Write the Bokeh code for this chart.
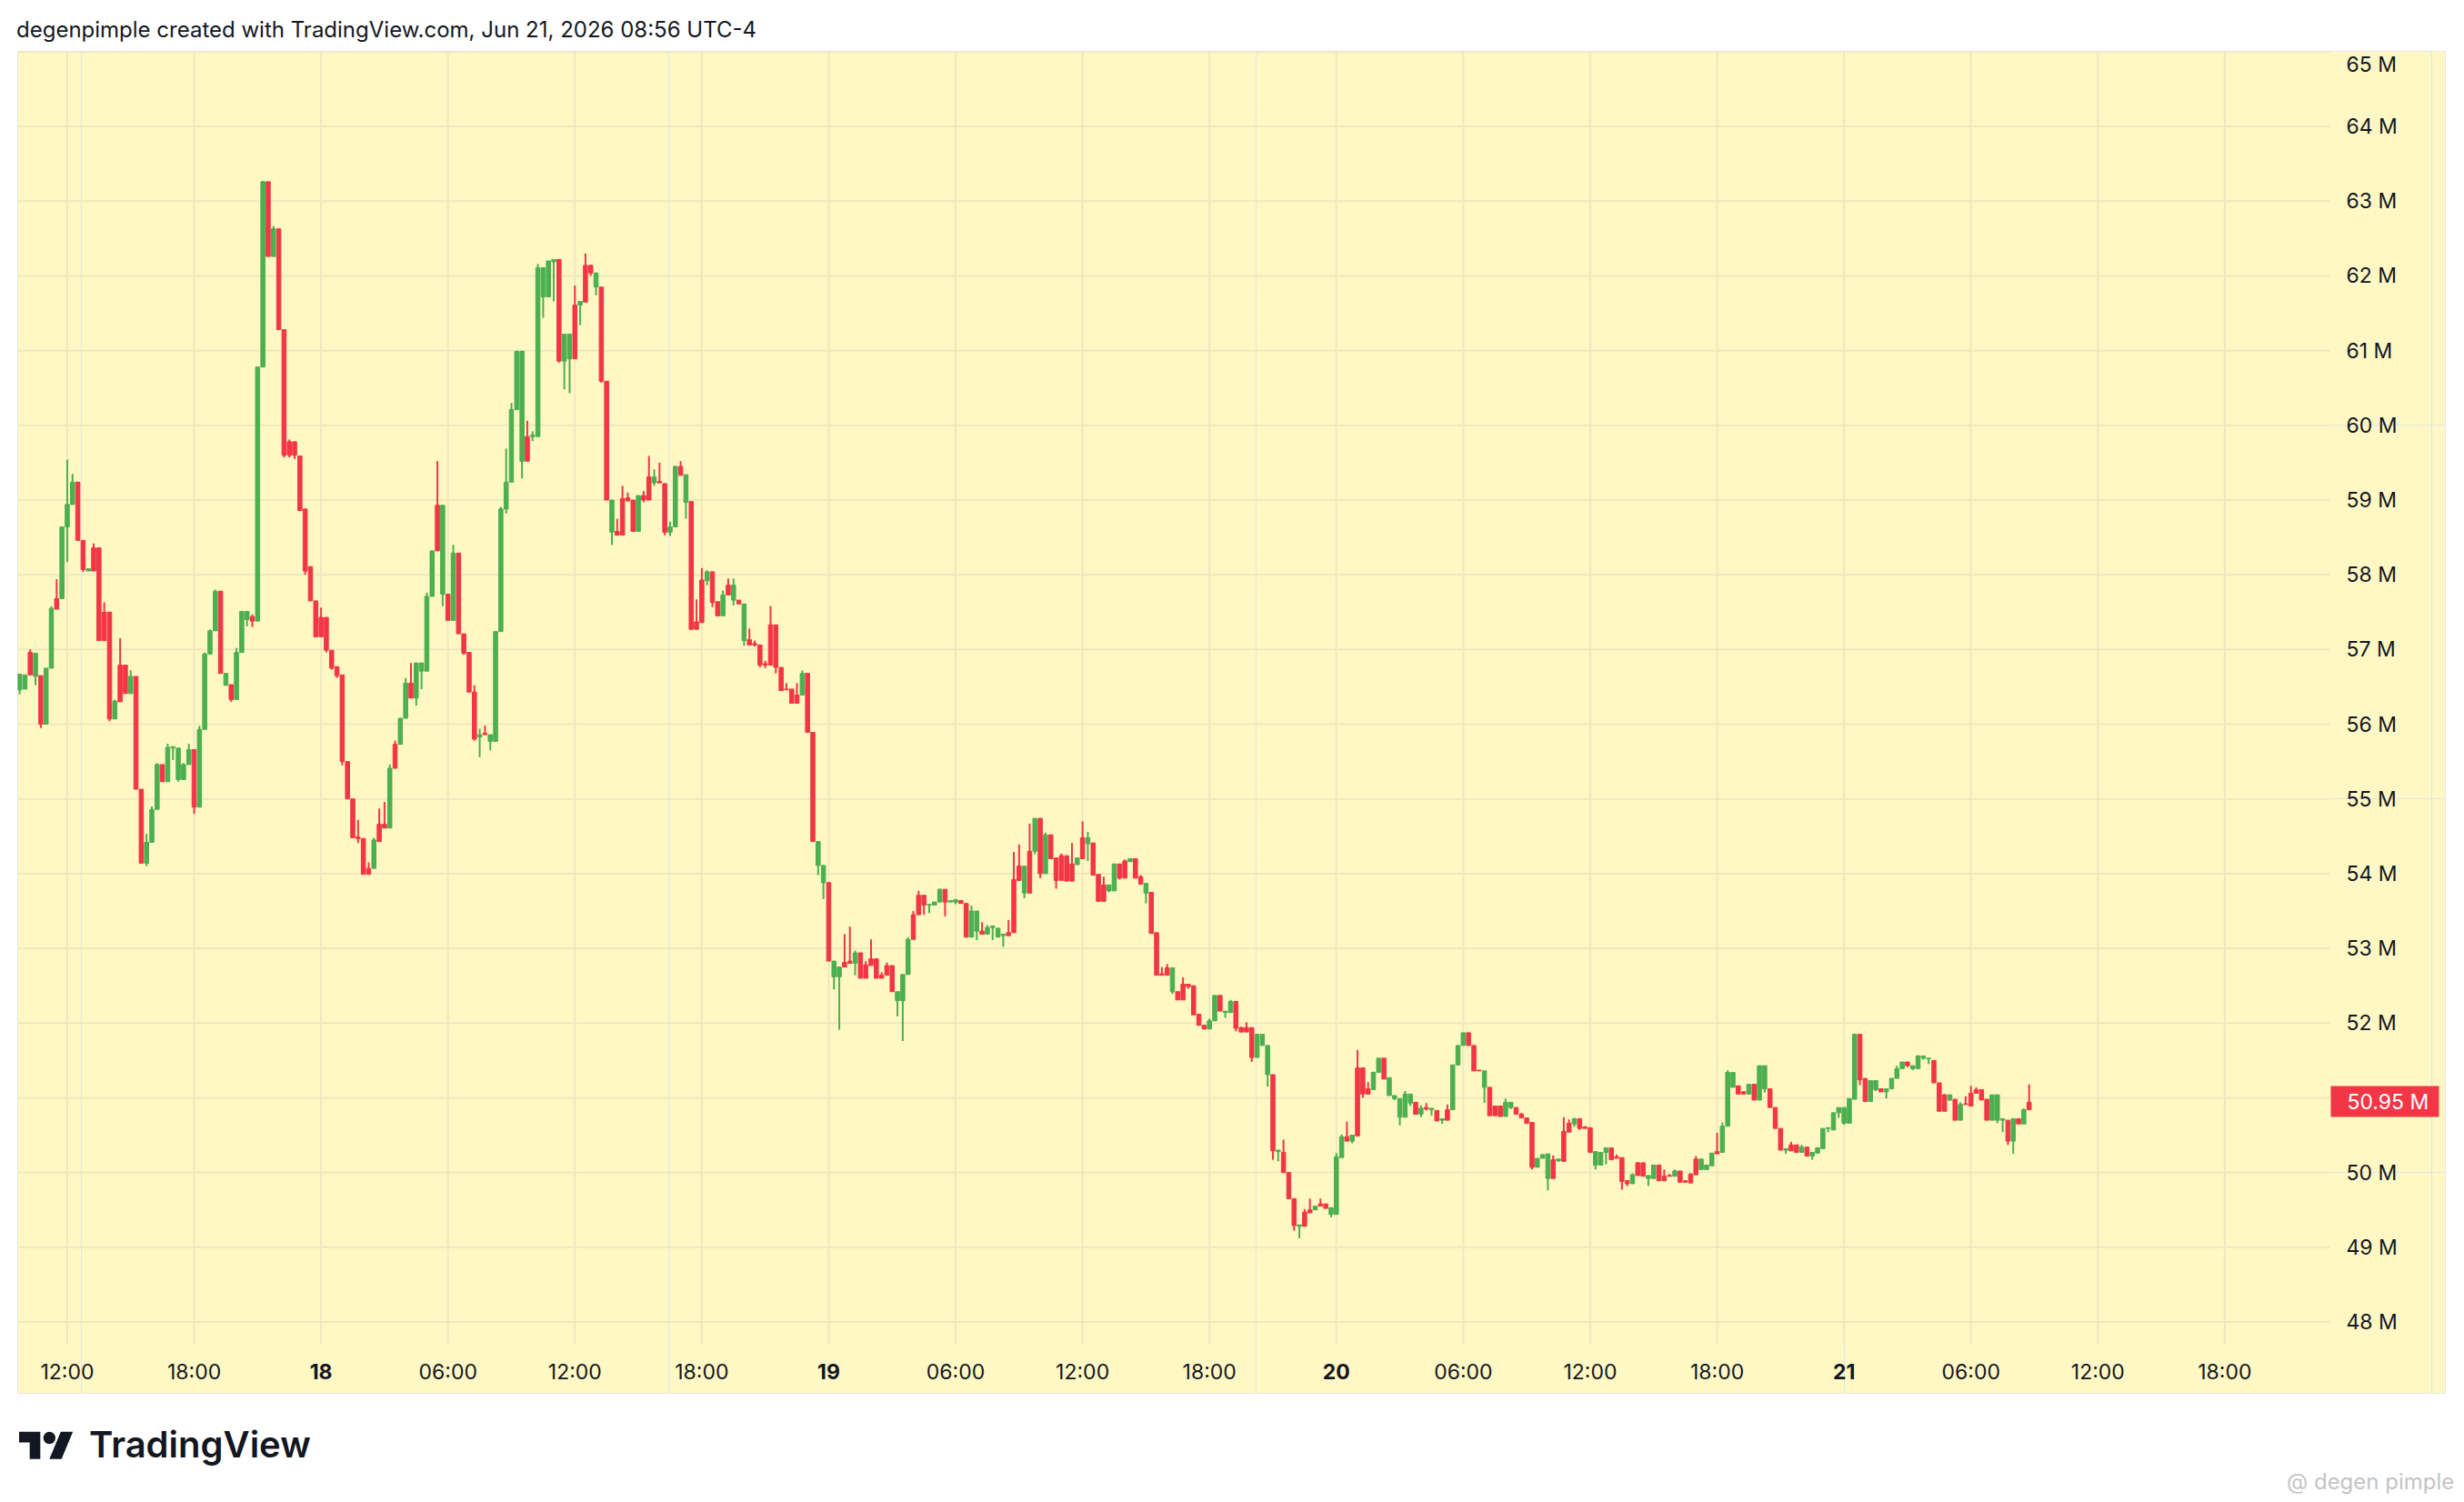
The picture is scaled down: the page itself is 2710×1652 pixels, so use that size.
import pandas as pd
from bokeh.plotting import figure
from bokeh.models import ColumnDataSource, Range1d, Div
from bokeh.layouts import column
from bokeh.core.properties import value
from bokeh.embed import file_html
from bokeh.resources import INLINE

# ---------------- data ----------------
title_text = "degenpimple created with TradingView.com, Jun 21, 2026 08:56 UTC-4"
brand_text = "TradingView"
watermark_text = "@ degen pimple"
first_bar_time = "2026-06-17 09:45"
bar_freq = "15min"

opens = [
    56.46, 56.47, 56.96, 56.64, 56.65, 56.00, 56.75, 57.68, 57.68, 58.64,
    58.94, 59.24, 58.46, 58.05, 58.36, 58.36, 57.50, 57.50, 56.07, 56.79,
    56.79, 56.41, 56.64, 55.13, 54.14, 54.42, 54.86, 55.46, 55.23, 55.68,
    55.26, 55.26, 55.46, 55.66, 54.89, 55.93, 56.94, 57.25, 57.78, 56.52,
    56.53, 56.33, 56.96, 57.40, 57.44, 57.38, 60.78, 63.26, 62.26, 62.63,
    61.28, 59.78, 59.78, 59.59, 58.88, 58.11, 57.65, 57.43, 57.43, 56.99,
    56.77, 56.66, 55.50, 55.00, 54.49, 54.47, 54.07, 54.07, 54.66, 54.66,
    54.61, 55.73, 55.73, 56.08, 56.55, 56.35, 56.71, 56.71, 57.71, 58.93,
    57.74, 57.74, 57.39, 58.29, 57.21, 56.96, 56.43, 55.83, 55.88, 55.77,
    55.77, 57.24, 58.88, 59.24, 60.21, 59.52, 59.85, 59.85, 59.85, 61.72,
    61.72, 62.19, 62.22, 60.86, 60.89, 61.61, 61.61, 62.14, 62.14, 61.85,
    61.85, 60.59, 58.57, 58.58, 59.02, 59.03, 59.00, 58.58, 59.06, 59.31,
    59.23, 59.25, 59.22, 58.57, 58.64, 59.45, 58.97, 58.98, 57.37, 57.93,
    57.92, 58.04, 57.64, 57.45, 57.86, 57.66, 57.66, 57.12, 57.13, 57.08,
    57.06, 56.81, 57.33, 57.33, 56.76, 56.47, 56.47, 56.39, 56.39, 56.68,
    55.89, 54.11, 53.88, 53.88, 52.62, 52.62, 52.81, 52.83, 52.80, 52.94,
    52.78, 52.86, 52.86, 52.64, 52.77, 52.77, 52.30, 52.30, 52.65, 53.45,
    53.71, 53.71, 53.58, 53.58, 53.62, 53.79, 53.62, 53.62, 53.64, 53.60,
    53.15, 53.23, 53.23, 53.19, 53.28, 53.15, 53.17, 53.21, 53.92, 54.10,
    53.74, 54.30, 54.30, 54.74, 54.00, 54.52, 54.21, 54.24, 54.24, 54.13,
    54.12, 54.48, 54.40, 54.41, 53.99, 53.85, 53.77, 53.77, 54.13, 54.17,
    54.16, 54.20, 53.96, 53.74, 53.75, 53.21, 52.66, 52.74, 52.42, 52.42,
    52.52, 52.52, 52.50, 52.12, 51.97, 51.92, 52.03, 52.37, 52.14, 52.14,
    52.29, 51.94, 51.94, 51.94, 51.54, 51.70, 51.31, 51.31, 50.28, 50.27,
    50.00, 49.65, 49.28, 49.47, 49.50, 49.50, 49.58, 49.58, 49.44, 49.44,
    50.20, 50.48, 50.42, 51.40, 51.40, 51.12, 51.11, 51.34, 51.53, 51.03,
    50.99, 50.74, 50.74, 50.93, 50.94, 50.78, 50.87, 50.84, 50.83, 50.70,
    50.84, 50.84, 51.44, 51.70, 51.87, 51.70, 51.37, 51.14, 51.14, 50.89,
    50.89, 50.75, 50.87, 50.87, 50.78, 50.73, 50.67, 50.07, 50.19, 49.92,
    50.17, 50.16, 50.55, 50.66, 50.65, 50.72, 50.61, 50.60, 50.10, 50.10,
    50.27, 50.33, 50.21, 50.20, 49.89, 49.85, 50.13, 50.13, 49.92, 49.92,
    50.10, 49.95, 49.96, 49.95, 50.02, 49.89, 49.98, 50.18, 50.04, 50.04,
    50.09, 50.28, 50.27, 50.62, 51.14, 51.16, 51.08, 51.05, 51.18, 50.97,
    51.12, 51.12, 50.87, 50.59, 50.30, 50.37, 50.37, 50.27, 50.34, 50.22,
    50.26, 50.32, 50.59, 50.57, 50.80, 50.66, 50.66, 50.98, 51.85, 51.26,
    50.95, 51.11, 51.12, 51.08, 51.12, 51.26, 51.39, 51.48, 51.39, 51.39,
    51.53, 51.52, 51.50, 51.20, 51.04, 50.97, 50.98, 50.70, 50.92, 51.06,
    51.11, 51.11, 50.98, 50.70, 50.70, 50.70, 50.70, 50.42, 50.72, 50.65, 50.94,
]
highs = [
    56.67, 56.66, 57.00, 56.95, 56.65, 56.75, 57.58, 57.94, 58.64, 59.54,
    59.35, 59.24, 58.46, 58.08, 58.42, 58.36, 57.63, 57.50, 56.33, 57.15,
    56.79, 56.72, 56.64, 55.13, 54.53, 54.90, 55.48, 55.46, 55.74, 55.70,
    55.68, 55.48, 55.74, 55.66, 55.98, 56.96, 57.27, 57.80, 57.78, 56.68,
    56.53, 57.02, 57.51, 57.51, 57.47, 60.78, 63.27, 63.26, 62.67, 62.63,
    61.28, 59.81, 59.78, 59.59, 58.88, 58.11, 57.65, 57.56, 57.43, 56.99,
    56.77, 56.66, 55.50, 55.00, 54.72, 54.47, 54.15, 54.48, 54.87, 54.96,
    55.46, 55.78, 56.08, 56.62, 56.82, 56.82, 56.82, 57.76, 58.32, 59.52,
    58.93, 57.74, 58.40, 58.29, 57.21, 56.96, 56.52, 55.94, 55.98, 55.86,
    57.24, 58.91, 59.69, 60.30, 61.00, 61.00, 60.06, 59.92, 62.16, 62.11,
    62.20, 62.22, 62.22, 61.22, 61.22, 61.87, 61.66, 62.30, 62.15, 62.04,
    61.85, 60.59, 59.00, 58.75, 59.19, 59.10, 59.00, 59.06, 59.12, 59.59,
    59.41, 59.50, 59.22, 58.71, 59.46, 59.52, 59.34, 58.98, 57.67, 58.09,
    58.06, 58.04, 57.64, 57.79, 57.95, 57.95, 57.66, 57.61, 57.28, 57.12,
    57.06, 56.85, 57.58, 57.33, 56.76, 56.55, 56.47, 56.55, 56.72, 56.68,
    55.89, 54.43, 54.11, 53.88, 52.83, 52.75, 53.19, 53.29, 52.97, 52.94,
    52.83, 53.12, 52.86, 52.68, 52.81, 52.77, 52.42, 52.65, 53.15, 53.50,
    53.77, 53.71, 53.59, 53.62, 53.80, 53.79, 53.64, 53.66, 53.64, 53.60,
    53.57, 53.50, 53.35, 53.31, 53.30, 53.27, 53.19, 53.38, 54.29, 54.39,
    54.10, 54.67, 54.74, 54.74, 54.55, 54.52, 54.21, 54.27, 54.24, 54.41,
    54.21, 54.70, 54.56, 54.41, 53.99, 53.96, 53.85, 54.13, 54.13, 54.19,
    54.20, 54.20, 53.98, 53.87, 53.75, 53.21, 52.75, 52.79, 52.74, 52.42,
    52.61, 52.52, 52.50, 52.12, 51.97, 52.06, 52.37, 52.37, 52.16, 52.31,
    52.29, 51.95, 52.01, 51.94, 51.85, 51.85, 51.70, 51.31, 50.30, 50.44,
    50.00, 49.65, 49.30, 49.51, 49.65, 49.55, 49.65, 49.58, 49.53, 50.26,
    50.51, 50.68, 50.50, 51.64, 51.40, 51.21, 51.35, 51.53, 51.53, 51.27,
    51.03, 50.99, 51.09, 51.05, 50.94, 50.90, 50.93, 50.86, 50.83, 50.72,
    50.91, 51.44, 51.70, 51.87, 51.87, 51.70, 51.37, 51.36, 51.14, 50.89,
    50.89, 50.99, 50.94, 50.87, 50.80, 50.73, 50.67, 50.19, 50.24, 50.25,
    50.23, 50.18, 50.74, 50.71, 50.73, 50.72, 50.62, 50.60, 50.28, 50.27,
    50.33, 50.33, 50.24, 50.20, 49.89, 49.99, 50.14, 50.13, 49.96, 50.10,
    50.10, 50.04, 49.98, 50.04, 50.02, 49.89, 49.99, 50.22, 50.18, 50.10,
    50.26, 50.53, 50.67, 51.37, 51.34, 51.16, 51.09, 51.18, 51.18, 51.43,
    51.43, 51.12, 50.87, 50.59, 50.32, 50.41, 50.37, 50.37, 50.34, 50.27,
    50.34, 50.59, 50.60, 50.80, 50.87, 50.87, 50.99, 51.85, 51.85, 51.26,
    51.23, 51.23, 51.12, 51.12, 51.26, 51.43, 51.48, 51.48, 51.43, 51.57,
    51.56, 51.53, 51.50, 51.20, 51.05, 51.04, 50.98, 50.94, 51.02, 51.16,
    51.14, 51.11, 50.98, 51.04, 51.04, 50.72, 50.70, 50.72, 50.72, 50.86, 51.18,
]
lows = [
    56.40, 56.47, 56.66, 56.52, 55.95, 56.00, 56.75, 57.54, 57.68, 58.17,
    58.94, 58.46, 58.04, 58.05, 58.05, 57.12, 57.12, 56.04, 56.07, 56.30,
    56.41, 56.41, 55.13, 54.14, 54.10, 54.42, 54.86, 55.23, 55.23, 55.52,
    55.23, 55.26, 55.46, 54.80, 54.89, 55.93, 56.94, 57.25, 56.68, 56.52,
    56.30, 56.33, 56.96, 57.31, 57.30, 57.38, 60.78, 62.26, 62.26, 61.28,
    59.57, 59.57, 59.55, 58.86, 58.00, 57.65, 57.17, 57.17, 56.96, 56.73,
    56.62, 55.45, 55.00, 54.48, 54.41, 53.99, 53.99, 54.07, 54.43, 54.61,
    54.61, 55.41, 55.73, 56.08, 56.35, 56.25, 56.47, 56.71, 57.71, 58.32,
    57.58, 57.39, 57.39, 57.21, 56.93, 56.43, 55.78, 55.56, 55.86, 55.65,
    55.77, 57.24, 58.82, 59.24, 60.21, 59.29, 59.52, 59.79, 59.85, 61.44,
    61.72, 61.66, 60.84, 60.48, 60.43, 60.89, 61.34, 61.65, 62.00, 61.74,
    60.57, 59.00, 58.40, 58.53, 58.53, 58.98, 58.58, 58.58, 58.97, 59.00,
    59.19, 59.23, 58.53, 58.52, 58.64, 59.33, 58.75, 57.27, 57.27, 57.36,
    57.86, 57.57, 57.45, 57.45, 57.73, 57.59, 57.61, 57.05, 57.06, 57.04,
    56.76, 56.75, 56.79, 56.68, 56.45, 56.46, 56.28, 56.28, 56.39, 55.89,
    54.43, 53.98, 53.66, 52.83, 52.45, 51.91, 52.75, 52.80, 52.64, 52.60,
    52.60, 52.77, 52.60, 52.60, 52.64, 52.42, 52.09, 51.76, 52.65, 53.12,
    53.45, 53.45, 53.47, 53.58, 53.62, 53.43, 53.62, 53.59, 53.60, 53.15,
    53.15, 53.11, 53.19, 53.19, 53.11, 53.15, 53.02, 53.17, 53.21, 53.91,
    53.67, 53.74, 54.26, 53.94, 54.00, 54.20, 53.80, 53.91, 53.90, 53.90,
    54.12, 54.20, 54.17, 53.98, 53.63, 53.63, 53.75, 53.77, 53.92, 53.94,
    54.16, 53.94, 53.86, 53.60, 53.20, 52.64, 52.64, 52.64, 52.39, 52.31,
    52.31, 52.46, 52.11, 51.97, 51.92, 51.92, 52.03, 52.16, 52.07, 52.14,
    51.89, 51.88, 51.88, 51.48, 51.54, 51.70, 51.15, 50.17, 50.15, 50.00,
    49.65, 49.22, 49.12, 49.28, 49.46, 49.50, 49.55, 49.52, 49.40, 49.44,
    50.20, 50.42, 50.39, 50.49, 51.00, 51.05, 51.11, 51.34, 51.25, 51.03,
    50.97, 50.63, 50.74, 50.89, 50.78, 50.74, 50.83, 50.76, 50.69, 50.65,
    50.70, 50.84, 51.44, 51.70, 51.70, 51.36, 51.36, 50.93, 50.76, 50.76,
    50.75, 50.75, 50.85, 50.78, 50.73, 50.65, 50.04, 50.07, 50.19, 49.76,
    49.92, 50.14, 50.15, 50.54, 50.61, 50.57, 50.59, 50.27, 50.04, 50.10,
    50.11, 50.17, 50.19, 49.77, 49.82, 49.85, 49.96, 49.95, 49.82, 49.92,
    49.89, 49.89, 49.95, 49.95, 49.87, 49.87, 49.86, 49.97, 50.04, 50.04,
    50.09, 50.25, 50.27, 50.62, 51.14, 51.05, 51.05, 51.05, 50.97, 50.97,
    51.07, 50.87, 50.59, 50.30, 50.25, 50.29, 50.27, 50.27, 50.22, 50.17,
    50.26, 50.32, 50.54, 50.57, 50.73, 50.64, 50.66, 50.98, 51.17, 50.95,
    50.95, 51.09, 51.08, 50.99, 51.12, 51.26, 51.39, 51.41, 51.37, 51.39,
    51.51, 51.45, 51.20, 50.82, 50.82, 50.96, 50.70, 50.70, 50.91, 50.89,
    51.06, 50.97, 50.70, 50.70, 50.66, 50.54, 50.37, 50.25, 50.65, 50.65, 50.84,
]
closes = [
    56.67, 56.66, 56.66, 56.95, 56.00, 56.75, 57.55, 57.54, 58.64, 58.94,
    59.24, 58.46, 58.07, 58.08, 58.05, 57.12, 57.12, 56.07, 56.31, 56.30,
    56.41, 56.64, 55.13, 54.14, 54.42, 54.86, 55.46, 55.23, 55.69, 55.70,
    55.68, 55.46, 55.66, 54.89, 55.93, 56.94, 57.25, 57.78, 56.68, 56.68,
    56.33, 56.96, 57.51, 57.51, 57.38, 60.78, 63.26, 62.26, 62.63, 61.28,
    59.60, 59.60, 59.60, 58.86, 58.05, 57.65, 57.17, 57.17, 56.99, 56.75,
    56.65, 55.50, 55.00, 54.48, 54.47, 53.99, 53.99, 54.45, 54.43, 54.61,
    55.41, 55.41, 56.08, 56.55, 56.35, 56.82, 56.82, 57.71, 58.32, 58.32,
    58.93, 57.39, 58.29, 57.21, 56.95, 56.43, 55.80, 55.86, 55.86, 55.86,
    57.24, 58.88, 59.24, 60.21, 60.99, 60.99, 59.52, 59.87, 62.11, 62.11,
    62.20, 62.22, 60.86, 61.22, 61.22, 60.89, 61.66, 61.65, 62.04, 62.04,
    60.59, 59.00, 59.00, 58.53, 58.53, 58.99, 58.58, 59.06, 59.00, 59.00,
    59.31, 59.23, 58.57, 58.64, 59.45, 59.33, 59.34, 57.27, 57.27, 57.36,
    58.04, 57.63, 57.45, 57.73, 57.73, 57.86, 57.61, 57.61, 57.06, 57.06,
    56.79, 56.79, 56.79, 56.76, 56.45, 56.46, 56.28, 56.28, 56.68, 55.89,
    54.43, 54.43, 54.11, 52.83, 52.83, 52.75, 52.75, 52.80, 52.94, 52.60,
    52.60, 52.77, 52.60, 52.60, 52.64, 52.42, 52.42, 52.65, 53.12, 53.12,
    53.45, 53.58, 53.59, 53.62, 53.79, 53.62, 53.64, 53.65, 53.60, 53.15,
    53.50, 53.50, 53.19, 53.28, 53.30, 53.27, 53.19, 53.17, 53.21, 53.91,
    54.10, 53.74, 54.74, 54.00, 54.52, 54.20, 53.91, 53.91, 53.90, 53.90,
    54.21, 54.20, 54.48, 53.98, 53.63, 53.63, 53.85, 54.13, 53.94, 53.94,
    54.20, 53.94, 53.86, 53.87, 53.20, 52.64, 52.64, 52.64, 52.74, 52.31,
    52.31, 52.49, 52.11, 51.97, 51.92, 52.03, 52.37, 52.16, 52.16, 52.29,
    51.93, 51.88, 51.88, 51.54, 51.85, 51.85, 51.70, 50.29, 50.30, 50.00,
    49.65, 49.29, 49.30, 49.28, 49.46, 49.55, 49.55, 49.52, 49.53, 50.21,
    50.48, 50.42, 50.50, 50.49, 51.05, 51.05, 51.34, 51.53, 51.25, 51.27,
    51.03, 50.99, 51.05, 51.05, 50.78, 50.86, 50.85, 50.86, 50.69, 50.72,
    50.70, 51.44, 51.70, 51.87, 51.70, 51.36, 51.36, 51.36, 50.76, 50.76,
    50.75, 50.94, 50.94, 50.78, 50.73, 50.66, 50.07, 50.19, 50.24, 50.25,
    49.92, 50.18, 50.15, 50.54, 50.72, 50.59, 50.59, 50.27, 50.28, 50.27,
    50.33, 50.17, 50.19, 49.88, 49.85, 49.97, 49.96, 49.95, 49.96, 50.10,
    49.89, 49.89, 49.95, 50.02, 49.87, 49.87, 49.86, 49.97, 50.18, 50.10,
    50.26, 50.25, 50.62, 51.34, 51.34, 51.05, 51.05, 51.18, 50.97, 51.43,
    51.43, 50.87, 50.59, 50.30, 50.32, 50.29, 50.27, 50.34, 50.22, 50.27,
    50.33, 50.59, 50.60, 50.80, 50.87, 50.87, 50.99, 51.85, 51.24, 50.95,
    51.23, 51.23, 51.08, 51.12, 51.26, 51.39, 51.48, 51.43, 51.43, 51.56,
    51.56, 51.53, 51.20, 50.82, 50.82, 51.04, 50.70, 50.91, 50.91, 50.89,
    51.06, 50.97, 50.70, 51.04, 51.04, 50.72, 50.42, 50.72, 50.65, 50.84, 50.84,
]

price_ticks = list(range(48, 66))
price_tick_labels = [f"{v} M" for v in price_ticks]
time_tick_start = "2026-06-17 12:00"
time_tick_labels = ["12:00", "18:00", "18", "06:00", "12:00", "18:00", "19", "06:00", "12:00",
                    "18:00", "20", "06:00", "12:00", "18:00", "21", "06:00", "12:00", "18:00"]
last_price = 50.95

# ---------------- styles / layout ----------------
BG = "#fff8c4"
GRID = "#efe8bd"
UP = "#4caf50"
DOWN = "#f23645"
TXT = "#131722"
FONT = "Inter"
PX_PER_M = 82.18          # vertical pixels per 1 M on the price scale
PX_PER_BAR = 5.816        # horizontal pixels per 15-minute bar

n = min(len(opens), len(highs), len(lows), len(closes))
times = pd.date_range(first_bar_time, periods=n, freq=bar_freq)
bar_ms = pd.Timedelta(bar_freq).total_seconds() * 1000.0
o, h, l, c = opens[:n], highs[:n], lows[:n], closes[:n]
src = ColumnDataSource(dict(
    t=times, h=h, l=l,
    top=[max(a, b) for a, b in zip(o, c)],
    bottom=[min(a, b) for a, b in zip(o, c)],
    color=[UP if b >= a else DOWN for a, b in zip(o, c)],
))

def ms(ts):
    return int(pd.Timestamp(ts).value // 10**6)

t_ref = ms(time_tick_start)

def bars(k):             # offset of k bars from the first time tick
    return t_ref + k * bar_ms

FW, FH = 2670, 1477       # frame = the yellow chart panel
x_start = bars(-9.362)
x_end = x_start + FW / PX_PER_BAR * bar_ms
y_end = 65.005
y_start = y_end - FH / PX_PER_M
grid_right = bars(427.88)              # the price scale begins here
grid_bottom = y_start + 55 / PX_PER_M  # the time scale strip below

p = figure(width=FW + 24, height=FH, x_range=Range1d(x_start, x_end),
           y_range=Range1d(y_start, y_end), output_backend="svg", toolbar_location=None,
           x_axis_location=None, y_axis_location=None,
           min_border_left=19, min_border_right=5, min_border_top=0, min_border_bottom=0,
           background_fill_color=BG, border_fill_color="white",
           outline_line_color="#e6e6e6", outline_line_width=1)

tick_times = pd.date_range(time_tick_start, periods=len(time_tick_labels), freq="6h")

# grid lines
p.segment(x0=list(tick_times), y0=[grid_bottom] * len(tick_times),
          x1=list(tick_times), y1=[y_end] * len(tick_times), line_color=GRID, line_width=2)
p.segment(x0=[x_start] * len(price_ticks), y0=price_ticks,
          x1=[grid_right] * len(price_ticks), y1=price_ticks, line_color=GRID, line_width=2)

# candles
p.segment(x0="t", y0="h", x1="t", y1="l", line_color="color", line_width=2, source=src)
p.vbar(x="t", width=bar_ms * 0.78, top="top", bottom="bottom",
       fill_color="color", line_color="color", line_width=1, source=src)

# price scale labels (the top one is kept fully inside the panel)
label_top_limit = y_end - 14 / PX_PER_M
price_label_y = [min(v, label_top_limit) for v in price_ticks]
p.text(x=[bars(430.97)] * len(price_ticks), y=price_label_y, text=price_tick_labels,
       text_font=value(FONT), text_font_size=value("23px"), text_color=TXT,
       text_align="left", text_baseline="middle")

# time scale labels (days in bold)
label_y = y_start + 25 / PX_PER_M
hours = [(t, lab) for t, lab in zip(tick_times, time_tick_labels) if ":" in lab]
days = [(t, lab) for t, lab in zip(tick_times, time_tick_labels) if ":" not in lab]
p.text(x=[t for t, _ in hours], y=[label_y] * len(hours), text=[lab for _, lab in hours],
       text_font=value(FONT), text_font_size=value("23px"), text_color=TXT,
       text_align="center", text_baseline="middle")
p.text(x=[t for t, _ in days], y=[label_y] * len(days), text=[lab for _, lab in days],
       text_font=value(FONT), text_font_size=value("23px"), text_font_style="bold",
       text_color=TXT, text_align="center", text_baseline="middle")

# last price tag
p.rect(x=[bars(438.28)], y=[last_price], width=119, height=34,
       width_units="screen", height_units="screen", fill_color=DOWN, line_color=None)
p.text(x=[bars(431.14)], y=[last_price], text=[f"{last_price:.2f} M"],
       text_font=value(FONT), text_font_size=value("23px"), text_color="white",
       text_align="left", text_baseline="middle")

title_div = Div(
    text=(f'<div style="position:relative;top:5px;font-family:{FONT};font-size:24px;color:{TXT};'
          f'line-height:46px;padding-left:13px;white-space:nowrap">{title_text}</div>'),
    width=2694, height=46)

brand_div = Div(
    text=(
        '<div style="position:relative;width:2694px;height:113px;font-family:Inter">'
        '<svg style="position:absolute;left:16px;top:30px" width="60" height="47" viewBox="0 0 36 28">'
        f'<path d="M14 22H7V11H0V4h14v18zM28 22h-8l7.5-18h8L28 22z" fill="{TXT}"/>'
        f'<circle cx="20" cy="8" r="4" fill="{TXT}"/></svg>'
        f'<span style="position:absolute;left:93px;top:31px;font-size:40px;line-height:1;'
        f'font-weight:600;color:{TXT};white-space:nowrap">{brand_text}</span>'
        '<span style="position:absolute;left:2510px;top:80px;font-size:24px;line-height:1;'
        f'color:#c4c4c4;white-space:nowrap">{watermark_text}</span>'
        '</div>'),
    width=2694, height=113)

layout = column(title_div, p, brand_div)

open("out.html", "w").write(file_html(layout, INLINE))
